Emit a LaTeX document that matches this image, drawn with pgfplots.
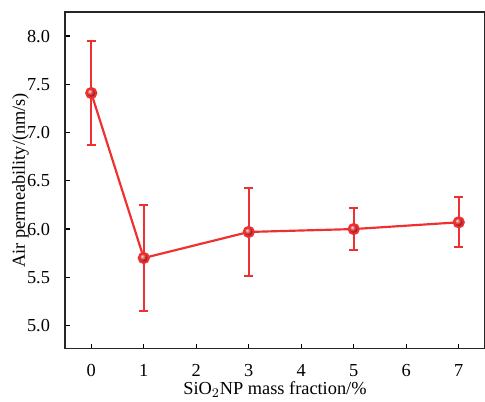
\documentclass[border=0pt]{standalone}
\usepackage{fontspec}
\setmainfont{Liberation Serif}
\usepackage{pgfplots}
\pgfplotsset{compat=1.18}
\usetikzlibrary{calc}
\definecolor{perm}{RGB}{238,48,48}
\begin{document}
\begin{tikzpicture}
\begin{axis}[
    scale only axis,
    width=252pt, height=202pt,
    xmin=-0.5, xmax=7.5,
    ymin=4.76, ymax=8.25,
    xtick={0,1,...,7},
    ytick={5.0,5.5,...,8.0},
    yticklabel style={/pgf/number format/fixed, /pgf/number format/fixed zerofill, /pgf/number format/precision=1},
    /pgf/number format/assume math mode=true,
    tick pos=left,
    tick align=inside,
    major tick length=3pt,
    minor tick num=0,
    axis line style={line width=0.9pt, black!85},
    tick style={line width=0.8pt, black},
    ticklabel style={font=\fontsize{11}{12}\selectfont},
    xticklabel style={yshift=-6pt},
    yticklabel style={xshift=-5.5pt},
    label style={font=\fontsize{11}{12}\selectfont},
    xlabel={SiO$_2$NP mass fraction/\%},
    ylabel={Air permeability/(nm/s)},
    xlabel style={yshift=4pt},
    ylabel style={yshift=-8pt},
]
\addplot[perm, line width=1.3pt, mark=ball, mark size=3pt,
    mark options={ball color=perm},
    error bars/.cd, y dir=both, y explicit,
    error mark=-, error mark options={perm, line width=1.2pt, mark size=2.7pt, rotate=90},
    error bar style={perm, line width=1.2pt}]
  coordinates {
    (0,7.41) +- (0,0.54)
    (1,5.70) +- (0,0.55)
    (3,5.97) +- (0,0.46)
    (5,6.00) +- (0,0.22)
    (7,6.07) +- (0,0.26)
  };
\end{axis}
\pgfresetboundingbox
\path[use as bounding box] ($(current axis.south west)+(-39pt,-31.5pt)$) rectangle ($(current axis.north east)+(0,7.2pt)$);
\end{tikzpicture}
\end{document}
